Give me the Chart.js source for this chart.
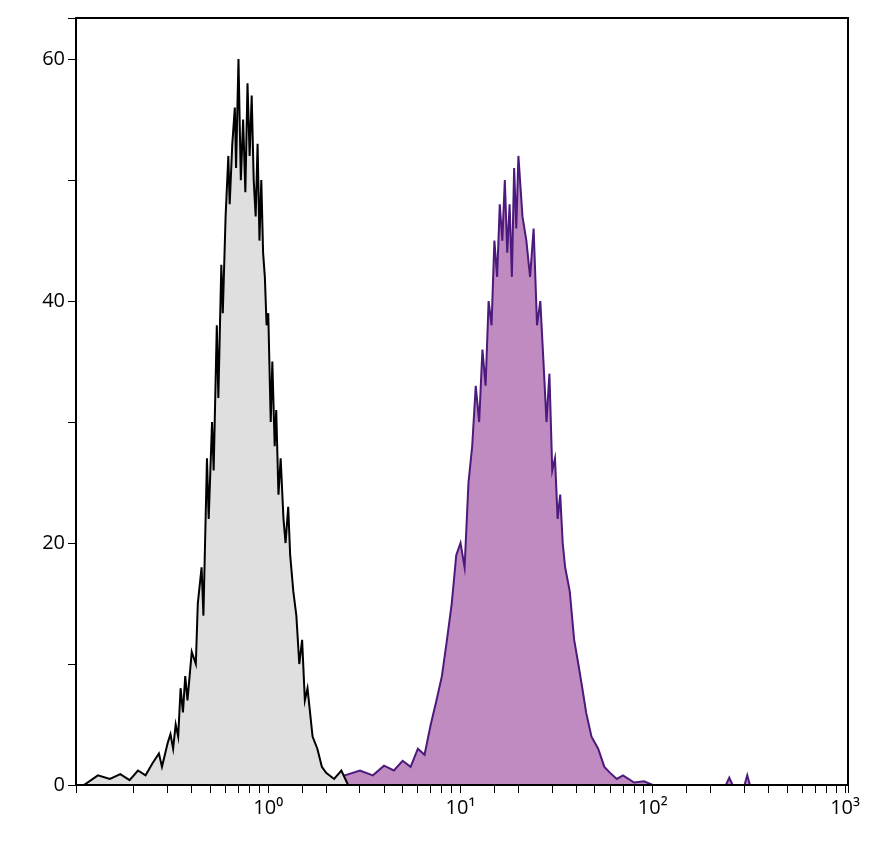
<!DOCTYPE html>
<html>
<head>
<meta charset="utf-8">
<script src="https://cdn.jsdelivr.net/npm/chart.js@4/dist/chart.umd.min.js"></script>
<style>body{margin:0;background:#fff}</style>
</head>
<body>
<canvas id="hist" width="873" height="863"></canvas>
<script>
// control (gray) histogram
const grayX = [0.11,0.13,0.15,0.17,0.19,0.21,0.23,0.25,0.27,0.28,0.30,0.31,0.32,0.33,0.34,0.35,0.36,0.37,0.38,0.40,0.42,0.43,0.45,0.46,0.48,0.49,0.51,0.52,0.54,0.55,0.57,0.58,0.60,0.62,0.63,0.65,0.67,0.68,0.70,0.72,0.74,0.76,0.78,0.80,0.82,0.84,0.86,0.88,0.90,0.92,0.94,0.96,0.98,1.0,1.03,1.05,1.08,1.1,1.13,1.16,1.2,1.23,1.27,1.3,1.35,1.4,1.45,1.5,1.55,1.6,1.7,1.8,1.9,2.0,2.2,2.4,2.6];
const grayY = [0,0.8,0.5,0.9,0.4,1.2,0.8,1.8,2.6,1.5,3.5,4.2,3,5,4,8,6,9,7,11,10,15,18,14,27,22,30,26,38,32,43,39,47,52,48,53,56,51,60,50,55,49,58,52,57,50,47,53,45,50,44,42,38,39,30,35,28,31,24,27,22,20,23,19,16,14,10,12,7,8,4,3,1.5,1,0.5,1.2,0];
// stained (purple) histogram
const purpleX = [0.2,0.3,0.5,0.8,1.0,1.5,2.0,2.5,3,3.5,4,4.5,5,5.5,6,6.5,7,7.5,8,8.5,9,9.5,10,10.5,11,11.5,12,12.5,13,13.5,14,14.5,15,15.5,16,16.5,17,17.5,18,18.5,19,19.5,20,21,22,23,24,25,26,27,28,29,30,31,32,33,34,35,37,39,41,43,45,48,52,56,60,65,70,80,90,100,240,250,260,300,310,320,400];
const purpleY = [0,0.5,0.2,0.3,0.1,0.4,0.2,0.8,1.2,0.8,1.6,1.2,2,1.5,3,2.5,5,7,9,12,15,19,20,18,25,28,33,30,36,33,40,38,45,42,48,45,50,44,48,42,51,46,52,47,45,42,46,38,40,35,30,34,26,27,22,24,20,18,16,12,10,8,6,4,3,1.5,1,0.5,0.8,0.2,0.3,0,0,0.6,0,0,0.8,0,0];
const yLabels = [0, 20, 40, 60];
const xLabels = {1: '10⁰', 10: '10¹', 100: '10²', 1000: '10³'};

function pts(xs, ys) { return xs.map((x, i) => ({x: x, y: ys[i]})); }

const frame = {
	id: 'frame',
	afterDraw(chart) {
		const a = chart.chartArea, c = chart.ctx;
		c.save();
		c.strokeStyle = '#000';
		c.lineWidth = 2;
		c.strokeRect(a.left, a.top, a.right - a.left, a.bottom - a.top);
		c.restore();
	}
};

Chart.defaults.font.family = 'Open Sans';
Chart.defaults.font.size = 20;
Chart.defaults.color = '#000';

new Chart(document.getElementById('hist'), {
	type: 'line',
	data: {
		datasets: [{
			data: pts(grayX, grayY),
			borderColor: '#000',
			backgroundColor: '#e0dfe0',
			borderWidth: 2,
			fill: 'origin',
			pointRadius: 0,
			tension: 0
		}, {
			data: pts(purpleX, purpleY),
			borderColor: '#4b1a7c',
			backgroundColor: '#c08bc0',
			borderWidth: 2,
			fill: 'origin',
			pointRadius: 0,
			tension: 0
		}]
	},
	options: {
		responsive: false,
		animation: false,
		layout: {padding: {top: 18, right: 25}},
		plugins: {legend: {display: false}, tooltip: {enabled: false}},
		scales: {
			x: {
				type: 'logarithmic',
				min: 0.1, max: 1036,
				border: {color: '#000', width: 2},
				grid: {drawOnChartArea: false, color: '#000', tickLength: 8},
				ticks: {
					autoSkip: false, maxRotation: 0,
					callback: (v) => xLabels[v] || ''
				},
				afterFit: (s) => { s.height = 78; }
			},
			y: {
				min: 0, max: 63.4,
				border: {color: '#000', width: 2},
				grid: {drawOnChartArea: false, color: '#000', tickLength: 8},
				ticks: {
					stepSize: 10,
					callback: (v) => yLabels.includes(v) ? v : ''
				},
				afterFit: (s) => { s.width = 76; }
			}
		}
	},
	plugins: [frame]
});
</script>
</body>
</html>
